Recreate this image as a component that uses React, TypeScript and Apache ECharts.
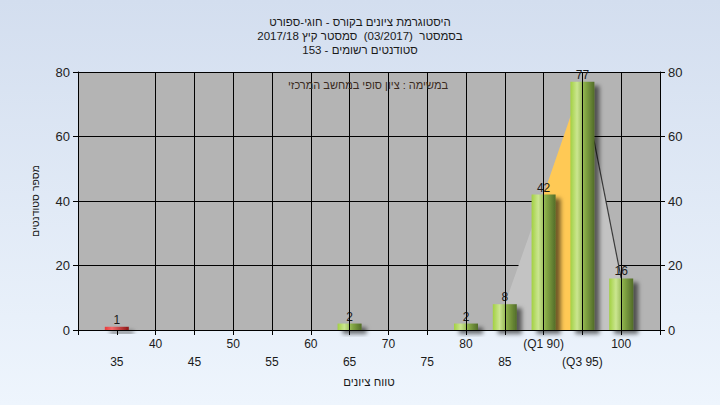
import React, { useEffect, useRef } from "react";
import * as echarts from "echarts";

const titleLines = [
  "היסטוגרמת ציונים בקורס - חוגי-ספורט",
  "בסמסטר  (03/2017)  סמסטר קיץ 2017/18",
  "סטודנטים רשומים - 153",
];
const noteText = "במשימה : ציון סופי במחשב המרכזי";
const xAxisName = "טווח ציונים";
const yAxisName = "מספר סטודנטים";

const scores = [35, 40, 45, 50, 55, 60, 65, 70, 75, 80, 85, 90, 95, 100];
const counts = [1, 0, 0, 0, 0, 0, 2, 0, 0, 2, 8, 42, 77, 16];
const failingScores = [35];
const q1 = 90;
const q3 = 95;
const curveFrom = 85;
const yTicks = [0, 20, 40, 60, 80];

export default function App() {
  const ref = useRef<HTMLDivElement>(null);
  useEffect(() => {
    if (!ref.current) return;
    const chart = echarts.init(ref.current, null, { renderer: "svg" });
    const font = "'Liberation Sans', Arial, sans-serif";
    const pts = scores.map((s, i) => [s, counts[i]]);
    const seg1 = pts.filter((p) => p[0] >= curveFrom && p[0] <= q1);
    const seg2 = pts.filter((p) => p[0] >= q1 && p[0] <= q3);
    const seg3 = pts.filter((p) => p[0] >= q3);
    const greenGrad = new echarts.graphic.LinearGradient(0, 0, 1, 0, [
      { offset: 0, color: "#a2d042" },
      { offset: 0.28, color: "#cbe690" },
      { offset: 0.6, color: "#87ab46" },
      { offset: 1, color: "#526c29" },
    ]);
    const redGrad = new echarts.graphic.LinearGradient(0, 0, 1, 0, [
      { offset: 0, color: "#e83a3a" },
      { offset: 0.3, color: "#f26a6a" },
      { offset: 1, color: "#8c1414" },
    ]);
    const shadow = {
      shadowBlur: 4,
      shadowOffsetX: 5,
      shadowOffsetY: 4,
      shadowColor: "rgba(0,0,0,0.55)",
    };
    const yMax = yTicks[yTicks.length - 1];
    const step = scores[1] - scores[0];
    const option: any = {
      animation: false,
      backgroundColor: "transparent",
      title: {
        text: titleLines.join("\n"),
        left: "center",
        top: 10,
        textStyle: {
          fontFamily: font,
          fontSize: 11.5,
          fontWeight: "normal",
          color: "#1a1a1a",
          lineHeight: 14,
        },
      },
      graphic: [
        {
          type: "text",
          x: 368,
          y: 85,
          style: {
            text: noteText,
            font: `11px ${font}`,
            fill: "#3a2a20",
            textAlign: "center",
            textVerticalAlign: "middle",
          },
          z: 100,
        },
      ],
      grid: {
        left: 78,
        right: 60,
        top: 72,
        bottom: 75,
        show: true,
        backgroundColor: "#b4b4b4",
        borderWidth: 0,
      },
      xAxis: {
        type: "value",
        min: scores[0] - step,
        max: scores[scores.length - 1] + step,
        interval: step,
        name: xAxisName,
        nameLocation: "middle",
        nameGap: 45,
        nameTextStyle: { fontFamily: font, fontSize: 11.5, color: "#1a1a1a" },
        axisLine: { show: true, lineStyle: { color: "#000", width: 1 } },
        axisTick: { show: true, length: 5, lineStyle: { color: "#000" } },
        splitLine: { show: false },
        axisLabel: {
          fontFamily: font,
          fontSize: 12,
          color: "#1a1a1a",
          margin: 5,
          lineHeight: 18,
          showMinLabel: true,
          showMaxLabel: true,
          formatter: (v: number) => {
            const idx = scores.indexOf(v);
            if (idx < 0) return "";
            let t = String(v);
            if (v === q1) t = `(Q1 ${v})`;
            if (v === q3) t = `(Q3 ${v})`;
            return idx % 2 === 0 ? "\n" + t : t;
          },
        },
      },
      yAxis: [
        {
          type: "value",
          min: yTicks[0],
          max: yMax,
          interval: yTicks[1] - yTicks[0],
          name: yAxisName,
          nameLocation: "middle",
          nameGap: 38,
          nameRotate: 90,
          nameTextStyle: { fontFamily: font, fontSize: 10.5, color: "#1a1a1a" },
          axisLine: { show: true, lineStyle: { color: "#000", width: 1 } },
          axisTick: { show: true, length: 5, lineStyle: { color: "#000" } },
          splitLine: { show: true, lineStyle: { color: "#000", width: 1 } },
          axisLabel: { fontFamily: font, fontSize: 13, color: "#222", margin: 8 },
        },
        {
          type: "value",
          position: "right",
          min: yTicks[0],
          max: yMax,
          interval: yTicks[1] - yTicks[0],
          axisLine: { show: true, lineStyle: { color: "#000", width: 1 } },
          axisTick: { show: true, length: 5, lineStyle: { color: "#000" } },
          splitLine: { show: false },
          axisLabel: { fontFamily: font, fontSize: 13, color: "#222", margin: 8 },
        },
      ],
      series: [
        {
          type: "line",
          data: [],
          z: 1,
          silent: true,
          markLine: {
            silent: true,
            symbol: ["none", "none"],
            label: { show: false },
            lineStyle: { color: "#000", width: 1, type: "solid" },
            emphasis: { disabled: true },
            data: scores.slice(1).map((s) => ({ xAxis: s })),
          },
        },
        {
          type: "line",
          data: seg1,
          z: 2,
          symbol: "none",
          silent: true,
          lineStyle: { width: 0 },
          areaStyle: { color: "#c3c3c3", opacity: 1 },
        },
        {
          type: "line",
          data: seg2,
          z: 2,
          symbol: "none",
          silent: true,
          lineStyle: { width: 0 },
          areaStyle: { color: "#ffc955", opacity: 1 },
        },
        {
          type: "line",
          data: seg3,
          z: 2,
          symbol: "none",
          silent: true,
          lineStyle: { width: 1.2, color: "#3a3a3a" },
          areaStyle: { color: "#c3c3c3", opacity: 1 },
        },
        {
          type: "bar",
          z: 3,
          barWidth: 24,
          data: pts.map((p) => ({
            value: p,
            itemStyle: {
              color: failingScores.includes(p[0]) ? redGrad : greenGrad,
              ...shadow,
            },
          })),
          label: {
            show: true,
            position: "top",
            distance: 1,
            fontFamily: font,
            fontSize: 12,
            color: "#1a1a1a",
            formatter: (p: any) => (p.value[1] > 0 ? String(p.value[1]) : ""),
          },
        },
      ],
    };
    chart.setOption(option);
    return () => chart.dispose();
  }, []);
  return (
    <div
      ref={ref}
      style={{
        position: "fixed",
        left: 0,
        top: 0,
        width: 720,
        height: 405,
        background: "linear-gradient(180deg, #d3deef 0%, #eef5fd 100%)",
      }}
    />
  );
}
